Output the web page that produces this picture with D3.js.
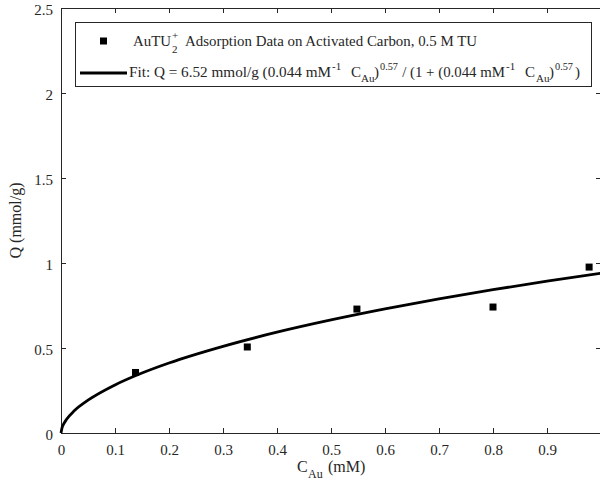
<!DOCTYPE html>
<html>
<head>
<meta charset="utf-8">
<script src="https://cdn.jsdelivr.net/npm/d3@7"></script>
<style>
  body { margin: 0; background: #fff; }
  svg text { font-family: "Liberation Serif", "Times New Roman", serif; fill: #262626; white-space: pre; }
</style>
</head>
<body>
<script>
// measured adsorption points
const dataC = [0.138, 0.345, 0.548, 0.800, 0.978]
const dataQ = [0.356, 0.506, 0.729, 0.741, 0.976]

// fitted curve
const fitC = [0, 0.002, 0.005, 0.01, 0.025, 0.05, 0.1, 0.15, 0.2, 0.3, 0.4, 0.5, 0.6, 0.7, 0.8, 0.9, 1.0]
const fitQ = [0, 0.032, 0.053, 0.079, 0.132, 0.193, 0.283, 0.353, 0.412, 0.510, 0.593, 0.665, 0.730, 0.789, 0.843, 0.893, 0.940]

const xTicks = [0, 0.1, 0.2, 0.3, 0.4, 0.5, 0.6, 0.7, 0.8, 0.9]
const yTicks = [0, 0.5, 1, 1.5, 2, 2.5]

const width = 600
const height = 488
const pLeft = 61, pRight = 601, pTop = 8, pBottom = 433

const svg = d3.select("body").append("svg")
    .attr("width", width)
    .attr("height", height)

const x = d3.scaleLinear().domain([0, 1]).range([pLeft, pRight])
const y = d3.scaleLinear().domain([0, 2.5]).range([pBottom, pTop])

const axisColor = "#262626"

// axes, ticks pointing inward like matlab
const gx = svg.append("g").attr("transform", `translate(0,${pBottom})`)
    .call(d3.axisBottom(x).tickValues(xTicks).tickSizeInner(-5).tickSizeOuter(0).tickPadding(11)
        .tickFormat(d => d === 0 ? "0" : d3.format(".1f")(d)))
const gxTop = svg.append("g").attr("transform", `translate(0,${pTop})`)
    .call(d3.axisTop(x).tickValues(xTicks).tickSizeInner(-5).tickSizeOuter(0).tickFormat(""))
const gy = svg.append("g").attr("transform", `translate(${pLeft},0)`)
    .call(d3.axisLeft(y).tickValues(yTicks).tickSizeInner(-5).tickSizeOuter(0).tickPadding(8)
        .tickFormat(d => String(d)))
const gyRight = svg.append("g").attr("transform", `translate(${pRight},0)`)
    .call(d3.axisRight(y).tickValues(yTicks).tickSizeInner(-5).tickSizeOuter(0).tickFormat(""))

for (const g of [gx, gxTop, gy, gyRight]) {
    g.select(".domain").attr("stroke", axisColor)
    g.selectAll(".tick line").attr("stroke", axisColor)
    g.selectAll("text").style("font-size", "15px").attr("fill", axisColor)
}
gy.selectAll("text").attr("dy", "0.45em")

// fit line
const line = d3.line()
    .x((d, i) => x(fitC[i]))
    .y((d, i) => y(fitQ[i]))
    .curve(d3.curveMonotoneX)

svg.append("path")
    .datum(fitC)
    .attr("d", line)
    .attr("fill", "none")
    .attr("stroke", "#000")
    .attr("stroke-width", 2.8)

// data markers
svg.selectAll("rect.pt")
    .data(dataC)
    .enter()
    .append("rect")
    .attr("class", "pt")
    .attr("x", (d) => x(d) - 3.5)
    .attr("y", (d, i) => y(dataQ[i]) - 3.5)
    .attr("width", 7)
    .attr("height", 7)
    .attr("fill", "#000")

// one piece of legend / label text, optionally squeezed to a width
function piece(parent, s, px, py, size, len) {
    const t = parent.append("text").attr("x", px).attr("y", py).style("font-size", size + "px").text(s)
    if (len) t.attr("textLength", len).attr("lengthAdjust", "spacingAndGlyphs")
    return t
}

// axis labels
piece(svg, "C", 297, 472, 16)
piece(svg, "Au", 308, 478, 12)
piece(svg, "(mM)", 328, 472, 16)
svg.append("text")
    .attr("transform", `translate(21,${(pTop + pBottom) / 2}) rotate(-90)`)
    .attr("text-anchor", "middle")
    .style("font-size", "16px")
    .text("Q (mmol/g)")

// legend
const lg = svg.append("g")
lg.append("rect")
    .attr("x", 75.5).attr("y", 22.5).attr("width", 516).attr("height", 64)
    .attr("fill", "#fff").attr("stroke", axisColor).attr("stroke-width", 1)

lg.append("rect").attr("x", 100).attr("y", 37.5).attr("width", 7).attr("height", 7).attr("fill", "#000")
piece(lg, "AuTU", 133, 46, 15, 38)
piece(lg, "+", 172, 39, 11)
piece(lg, "2", 172, 53, 11)
piece(lg, "Adsorption Data on Activated Carbon, 0.5 M TU", 185, 46, 15, 292)

lg.append("line").attr("x1", 80).attr("x2", 127).attr("y1", 73).attr("y2", 73)
    .attr("stroke", "#000").attr("stroke-width", 2.8)
const base2 = 77
piece(lg, "Fit: Q = 6.52 mmol/g (0.044 mM", 129, base2, 15, 202)
piece(lg, "-1", 332, base2 - 7, 11)
piece(lg, "C", 351, base2, 15)
piece(lg, "Au", 361, base2 + 5, 11)
piece(lg, ")", 374, base2, 15)
piece(lg, "0.57", 380, base2 - 7, 11, 18)
piece(lg, " / (1 + (0.044 mM", 398.5, base2, 15, 106.5)
piece(lg, "-1", 506, base2 - 7, 11)
piece(lg, "C", 525, base2, 15)
piece(lg, "Au", 536, base2 + 5, 11)
piece(lg, ")", 549, base2, 15)
piece(lg, "0.57", 555, base2 - 7, 11, 18)
piece(lg, ")", 575, base2, 15)
</script>
</body>
</html>
